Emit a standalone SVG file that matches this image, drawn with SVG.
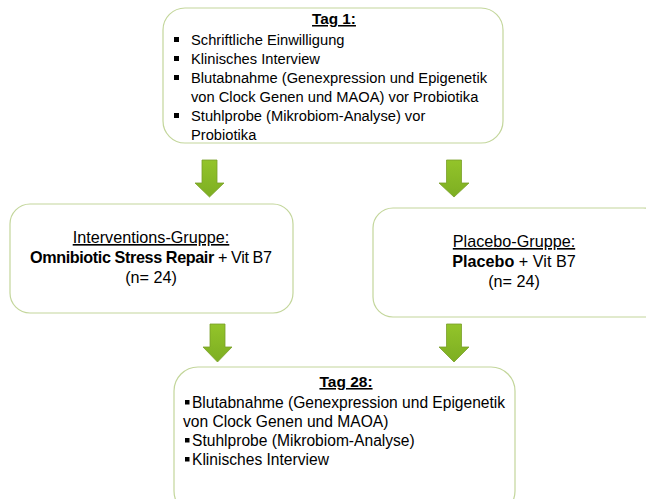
<svg xmlns="http://www.w3.org/2000/svg" width="646" height="499" viewBox="0 0 646 499">
<defs>
<style>
.box{fill:#ffffff;stroke:#c3d69b;stroke-width:1.2}
.t{font-family:"Liberation Sans",Arial,sans-serif;fill:#000}
.s1{font-size:14.7px}
.s2{font-size:16.2px}
.s3{font-size:15.6px}
.b{font-weight:bold}
.u{text-decoration:underline}
.arr{fill:url(#g);stroke:#7a9f2a;stroke-width:0.8}
.bul{fill:#000}
</style>
<linearGradient id="g" x1="0" y1="0" x2="0" y2="1">
<stop offset="0" stop-color="#93c42a"/>
<stop offset="1" stop-color="#7dae22"/>
</linearGradient>
</defs>
<rect width="646" height="499" fill="#ffffff"/>

<g id="connectors">
<path class="arr" d="M202 160 H217 V183 H224 L209.5 197 L195 183 H202 Z"/>
<path class="arr" d="M446.5 160 H461.5 V183 H469 L454 197 L439 183 H446.5 Z"/>
<path class="arr" d="M210 324 H225 V347 H232 L217.5 362 L203 347 H210 Z"/>
<path class="arr" d="M446.5 324 H461.5 V347 H469 L454 362 L439 347 H446.5 Z"/>
</g>

<g id="tag1">
<rect class="box" x="163" y="8" width="340" height="135" rx="22"/>
<text class="t b u" x="334" y="24" text-anchor="middle" font-size="15.3">Tag 1:</text>
<rect class="bul" x="174" y="37" width="5" height="5"/>
<rect class="bul" x="174" y="56" width="5" height="5"/>
<rect class="bul" x="174" y="75" width="5" height="5"/>
<rect class="bul" x="174" y="113" width="5" height="5"/>
<text class="t s1" x="191" y="45">Schriftliche Einwilligung</text>
<text class="t s1" x="191" y="64">Klinisches Interview</text>
<text class="t s1" x="191" y="83" textLength="296">Blutabnahme (Genexpression und Epigenetik</text>
<text class="t s1" x="191" y="102">von Clock Genen und MAOA) vor Probiotika</text>
<text class="t s1" x="191" y="121">Stuhlprobe (Mikrobiom-Analyse) vor</text>
<text class="t s1" x="191" y="140">Probiotika</text>
</g>

<g id="intervention">
<rect class="box" x="10" y="204" width="283" height="109" rx="20"/>
<text class="t s2 u" x="151" y="243" text-anchor="middle">Interventions-Gruppe:</text>
<text class="t s2" x="30" y="263" textLength="242"><tspan class="b">Omnibiotic Stress Repair</tspan> + Vit B7</text>
<text class="t s2" x="151" y="283" text-anchor="middle">(n= 24)</text>
</g>

<g id="placebo">
<rect class="box" x="373" y="208" width="290" height="109" rx="20"/>
<text class="t s2 u" x="514" y="247" text-anchor="middle">Placebo-Gruppe:</text>
<text class="t s2" x="514" y="267" text-anchor="middle"><tspan class="b">Placebo</tspan> + Vit B7</text>
<text class="t s2" x="514" y="287" text-anchor="middle">(n= 24)</text>
</g>

<g id="tag28">
<rect class="box" x="174" y="367" width="341" height="148" rx="24"/>
<text class="t b u" x="346" y="387" text-anchor="middle" font-size="15.5">Tag 28:</text>
<rect class="bul" x="185" y="400" width="4.5" height="4.5"/>
<rect class="bul" x="185" y="438" width="4.5" height="4.5"/>
<rect class="bul" x="185" y="457" width="4.5" height="4.5"/>
<text class="t s3" x="192" y="408" textLength="313">Blutabnahme (Genexpression und Epigenetik</text>
<text class="t s3" x="183" y="427">von Clock Genen und MAOA)</text>
<text class="t s3" x="192" y="446">Stuhlprobe (Mikrobiom-Analyse)</text>
<text class="t s3" x="192" y="465">Klinisches Interview</text>
</g>
</svg>
